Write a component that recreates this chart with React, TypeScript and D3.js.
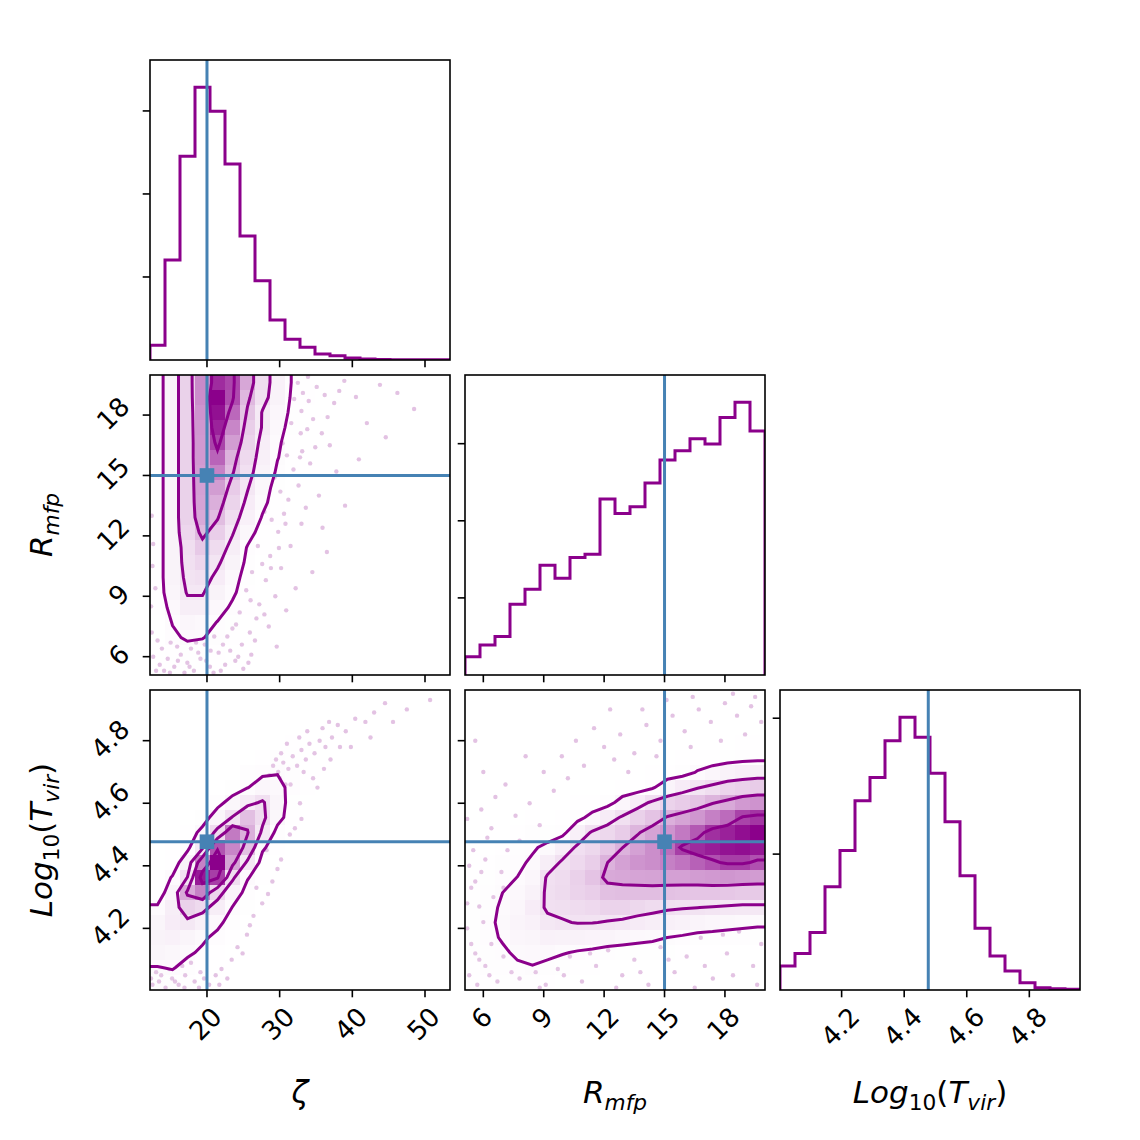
import React from "react";
import * as d3 from "d3";

const PURPLE = "#8b008b";
const TRUTH_COLOR = "#4682b4";
const FONT = "DejaVu Sans";

// axis limits for each parameter (sample extent)
const zetaRange: [number, number] = [12.16, 53.44];
const rmfpRange: [number, number] = [5.09, 19.99];
const logTvirRange: [number, number] = [4.003, 4.962];

const zetaTicks = [20, 30, 40, 50];
const rmfpTicks = [6, 9, 12, 15, 18];
const logTvirTicks = [4.2, 4.4, 4.6, 4.8];

// input values of the mock observation
const truthZeta = 20;
const truthRmfp = 15;
const truthLogTvir = 4.477;

// 1D marginals, 20 bins over each range
const zetaCounts = [177, 1205, 2454, 3285, 2996, 2361, 1494, 956, 482, 249, 153, 72, 52, 24, 12, 6, 4, 3, 2, 2];
const rmfpCounts = [238, 390, 498, 918, 1113, 1424, 1255, 1524, 1567, 2281, 2095, 2182, 2489, 2788, 2909, 3065, 2996, 3338, 3537, 3165];
const logTvirCounts = [177, 268, 423, 759, 1027, 1393, 1563, 1835, 2007, 1860, 1595, 1238, 840, 455, 251, 140, 54, 17, 10, 5];

const zetaCountTicks = [1000, 2000, 3000];
const rmfpCountTicks = [1000, 2000, 3000];
const logTvirCountTicks = [1000, 2000];

// 2D densities (20x20 bins), first row = top of the panel
const zetaRmfpDensity = [
  [0.06, 0.22, 0.42, 0.68, 0.91, 0.85, 0.59, 0.37, 0.23, 0.11, 0.06, 0.035, 0.02, 0.01, 0.005, 0, 0, 0, 0, 0],
  [0.06, 0.22, 0.42, 0.67, 1.0, 0.84, 0.53, 0.35, 0.22, 0.1, 0.05, 0.03, 0.015, 0.01, 0, 0, 0, 0, 0, 0],
  [0.06, 0.22, 0.42, 0.65, 0.97, 0.77, 0.48, 0.29, 0.19, 0.09, 0.045, 0.025, 0.012, 0.005, 0, 0, 0, 0, 0, 0],
  [0.06, 0.22, 0.42, 0.64, 0.93, 0.69, 0.44, 0.29, 0.17, 0.07, 0.035, 0.02, 0.01, 0, 0, 0, 0, 0, 0, 0],
  [0.06, 0.22, 0.42, 0.63, 0.86, 0.62, 0.41, 0.26, 0.14, 0.06, 0.03, 0.015, 0.005, 0, 0, 0, 0, 0, 0, 0],
  [0.06, 0.22, 0.42, 0.63, 0.78, 0.55, 0.38, 0.24, 0.125, 0.06, 0.03, 0.015, 0, 0, 0, 0, 0, 0, 0, 0],
  [0.06, 0.22, 0.42, 0.62, 0.7, 0.51, 0.35, 0.22, 0.1, 0.05, 0.025, 0.012, 0, 0, 0, 0, 0, 0, 0, 0],
  [0.06, 0.22, 0.42, 0.61, 0.62, 0.45, 0.31, 0.18, 0.07, 0.035, 0.018, 0.01, 0, 0, 0, 0, 0, 0, 0, 0],
  [0.06, 0.22, 0.42, 0.6, 0.56, 0.41, 0.27, 0.15, 0.06, 0.03, 0.015, 0, 0, 0, 0, 0, 0, 0, 0, 0],
  [0.06, 0.22, 0.42, 0.58, 0.51, 0.36, 0.23, 0.11, 0.05, 0.025, 0.012, 0, 0, 0, 0, 0, 0, 0, 0, 0],
  [0.06, 0.22, 0.4, 0.53, 0.44, 0.31, 0.18, 0.06, 0.03, 0.015, 0, 0, 0, 0, 0, 0, 0, 0, 0, 0],
  [0.06, 0.22, 0.36, 0.46, 0.37, 0.26, 0.11, 0.05, 0.025, 0.012, 0, 0, 0, 0, 0, 0, 0, 0, 0, 0],
  [0.06, 0.22, 0.35, 0.4, 0.32, 0.22, 0.09, 0.045, 0.02, 0.01, 0, 0, 0, 0, 0, 0, 0, 0, 0, 0],
  [0.06, 0.22, 0.33, 0.35, 0.27, 0.17, 0.07, 0.035, 0.015, 0, 0, 0, 0, 0, 0, 0, 0, 0, 0, 0],
  [0.06, 0.2, 0.31, 0.31, 0.22, 0.14, 0.06, 0.03, 0.012, 0, 0, 0, 0, 0, 0, 0, 0, 0, 0, 0],
  [0.05, 0.16, 0.26, 0.26, 0.17, 0.1, 0.05, 0.025, 0.01, 0, 0, 0, 0, 0, 0, 0, 0, 0, 0, 0],
  [0.04, 0.125, 0.19, 0.17, 0.115, 0.07, 0.035, 0.015, 0, 0, 0, 0, 0, 0, 0, 0, 0, 0, 0, 0],
  [0.03, 0.1, 0.135, 0.125, 0.09, 0.05, 0.025, 0.01, 0, 0, 0, 0, 0, 0, 0, 0, 0, 0, 0, 0],
  [0.02, 0.05, 0.075, 0.07, 0.05, 0.03, 0.015, 0.005, 0, 0, 0, 0, 0, 0, 0, 0, 0, 0, 0, 0],
  [0.01, 0.03, 0.045, 0.04, 0.03, 0.02, 0.01, 0, 0, 0, 0, 0, 0, 0, 0, 0, 0, 0, 0, 0],
];

const zetaLogTvirDensity = [
  [0, 0, 0, 0, 0, 0, 0, 0, 0, 0, 0.01, 0.015, 0.01, 0, 0, 0, 0, 0, 0, 0],
  [0, 0, 0, 0, 0, 0, 0, 0, 0, 0.015, 0.02, 0.02, 0.01, 0, 0, 0, 0, 0, 0, 0],
  [0, 0, 0, 0, 0, 0, 0, 0, 0.02, 0.03, 0.03, 0.02, 0.01, 0, 0, 0, 0, 0, 0, 0],
  [0, 0, 0, 0, 0, 0, 0, 0.03, 0.04, 0.05, 0.04, 0.02, 0, 0, 0, 0, 0, 0, 0, 0],
  [0, 0, 0, 0, 0, 0, 0.03, 0.06, 0.08, 0.07, 0.04, 0.02, 0, 0, 0, 0, 0, 0, 0, 0],
  [0, 0, 0, 0, 0.02, 0.04, 0.08, 0.11, 0.125, 0.08, 0.04, 0.02, 0, 0, 0, 0, 0, 0, 0, 0],
  [0, 0, 0.01, 0.02, 0.04, 0.07, 0.125, 0.185, 0.16, 0.1, 0.05, 0.025, 0.01, 0, 0, 0, 0, 0, 0, 0],
  [0, 0, 0.01, 0.03, 0.09, 0.18, 0.28, 0.35, 0.2, 0.07, 0.035, 0.015, 0, 0, 0, 0, 0, 0, 0, 0],
  [0, 0.01, 0.04, 0.07, 0.2, 0.34, 0.5, 0.37, 0.18, 0.06, 0.03, 0.015, 0, 0, 0, 0, 0, 0, 0, 0],
  [0, 0.02, 0.06, 0.17, 0.38, 0.72, 0.56, 0.3, 0.08, 0.04, 0.02, 0.01, 0, 0, 0, 0, 0, 0, 0, 0],
  [0.02, 0.05, 0.1, 0.3, 0.82, 0.69, 0.49, 0.15, 0.06, 0.03, 0.015, 0, 0, 0, 0, 0, 0, 0, 0, 0],
  [0.02, 0.06, 0.22, 0.7, 1.0, 0.6, 0.3, 0.08, 0.04, 0.02, 0.01, 0, 0, 0, 0, 0, 0, 0, 0, 0],
  [0.05, 0.14, 0.335, 0.95, 0.87, 0.36, 0.14, 0.06, 0.03, 0.015, 0, 0, 0, 0, 0, 0, 0, 0, 0, 0],
  [0.06, 0.21, 0.58, 0.7, 0.4, 0.22, 0.08, 0.04, 0.02, 0.01, 0, 0, 0, 0, 0, 0, 0, 0, 0, 0],
  [0.145, 0.26, 0.42, 0.38, 0.26, 0.125, 0.07, 0.035, 0.015, 0, 0, 0, 0, 0, 0, 0, 0, 0, 0, 0],
  [0.2, 0.27, 0.3, 0.24, 0.16, 0.08, 0.04, 0.02, 0.01, 0, 0, 0, 0, 0, 0, 0, 0, 0, 0, 0],
  [0.22, 0.23, 0.2, 0.15, 0.1, 0.05, 0.025, 0, 0, 0, 0, 0, 0, 0, 0, 0, 0, 0, 0, 0],
  [0.2, 0.18, 0.15, 0.11, 0.06, 0.03, 0, 0, 0, 0, 0, 0, 0, 0, 0, 0, 0, 0, 0, 0],
  [0.125, 0.14, 0.09, 0.05, 0.025, 0, 0, 0, 0, 0, 0, 0, 0, 0, 0, 0, 0, 0, 0, 0],
  [0.08, 0.07, 0.05, 0.03, 0.015, 0, 0, 0, 0, 0, 0, 0, 0, 0, 0, 0, 0, 0, 0, 0],
];

const rmfpLogTvirDensity = [
  [0, 0, 0, 0, 0, 0, 0, 0, 0, 0, 0, 0, 0, 0, 0, 0, 0.005, 0.005, 0.01, 0.01],
  [0, 0, 0, 0, 0, 0, 0, 0, 0, 0, 0, 0, 0, 0, 0.005, 0.005, 0.01, 0.01, 0.015, 0.015],
  [0, 0, 0, 0, 0, 0, 0, 0, 0, 0, 0, 0, 0.005, 0.008, 0.012, 0.015, 0.015, 0.02, 0.03, 0.03],
  [0, 0, 0, 0, 0, 0, 0, 0, 0, 0, 0, 0.007, 0.012, 0.015, 0.025, 0.03, 0.03, 0.04, 0.05, 0.05],
  [0, 0, 0, 0, 0, 0, 0, 0, 0, 0.01, 0.012, 0.015, 0.025, 0.03, 0.05, 0.06, 0.06, 0.07, 0.085, 0.09],
  [0, 0, 0, 0, 0, 0, 0, 0.012, 0.015, 0.02, 0.025, 0.03, 0.05, 0.06, 0.08, 0.135, 0.18, 0.22, 0.24, 0.25],
  [0, 0, 0, 0, 0.015, 0.01, 0.018, 0.025, 0.03, 0.04, 0.05, 0.06, 0.11, 0.205, 0.26, 0.31, 0.35, 0.39, 0.41, 0.43],
  [0, 0, 0, 0.015, 0.03, 0.02, 0.035, 0.05, 0.06, 0.08, 0.176, 0.26, 0.34, 0.4, 0.43, 0.47, 0.52, 0.56, 0.61, 0.63],
  [0.005, 0.01, 0.015, 0.03, 0.05, 0.035, 0.06, 0.09, 0.163, 0.26, 0.335, 0.41, 0.47, 0.54, 0.58, 0.62, 0.68, 0.735, 0.83, 0.86],
  [0.01, 0.02, 0.03, 0.05, 0.08, 0.07, 0.09, 0.23, 0.335, 0.38, 0.43, 0.52, 0.58, 0.63, 0.7, 0.78, 0.87, 0.9, 0.94, 0.965],
  [0.02, 0.035, 0.05, 0.075, 0.11, 0.153, 0.24, 0.34, 0.377, 0.45, 0.53, 0.585, 0.645, 0.73, 0.84, 0.88, 0.91, 0.93, 0.94, 0.925],
  [0.03, 0.05, 0.075, 0.1, 0.145, 0.246, 0.338, 0.375, 0.423, 0.53, 0.586, 0.625, 0.645, 0.68, 0.71, 0.76, 0.8, 0.84, 0.84, 0.8],
  [0.045, 0.07, 0.1, 0.127, 0.183, 0.336, 0.357, 0.41, 0.47, 0.56, 0.568, 0.575, 0.58, 0.59, 0.59, 0.6, 0.61, 0.62, 0.61, 0.6],
  [0.055, 0.085, 0.125, 0.154, 0.22, 0.345, 0.364, 0.4, 0.422, 0.48, 0.49, 0.49, 0.49, 0.475, 0.47, 0.46, 0.46, 0.45, 0.44, 0.44],
  [0.065, 0.095, 0.14, 0.18, 0.26, 0.336, 0.345, 0.36, 0.375, 0.4, 0.4, 0.38, 0.36, 0.337, 0.327, 0.32, 0.31, 0.3, 0.29, 0.29],
  [0.07, 0.1, 0.15, 0.2, 0.225, 0.29, 0.31, 0.324, 0.323, 0.31, 0.295, 0.27, 0.25, 0.233, 0.22, 0.2, 0.18, 0.17, 0.16, 0.15],
  [0.07, 0.1, 0.135, 0.18, 0.19, 0.225, 0.22, 0.22, 0.21, 0.195, 0.18, 0.16, 0.145, 0.125, 0.11, 0.09, 0.09, 0.08, 0.075, 0.07],
  [0.065, 0.09, 0.11, 0.142, 0.155, 0.16, 0.135, 0.114, 0.1, 0.08, 0.07, 0.07, 0.07, 0.065, 0.055, 0.045, 0.045, 0.04, 0.04, 0.035],
  [0.055, 0.075, 0.09, 0.11, 0.12, 0.09, 0.065, 0.06, 0.05, 0.04, 0.035, 0.035, 0.035, 0.03, 0.025, 0.02, 0.02, 0.02, 0.02, 0.02],
  [0.045, 0.055, 0.065, 0.08, 0.08, 0.05, 0.035, 0.03, 0.025, 0.02, 0.017, 0.017, 0.017, 0.015, 0.012, 0.01, 0.01, 0.01, 0.01, 0.01],
];

// contour levels, outermost first (fraction of peak density)
const zetaRmfpLevels = [0.12, 0.3, 0.5, 0.82];
const zetaLogTvirLevels = [0.13, 0.33, 0.55, 0.85];
const rmfpLogTvirLevels = [0.13, 0.33, 0.55, 0.85];

// individual samples that sit outside the outer contour
const zetaRmfpSamples: [number, number][] = [
  [32.5, 19.6], [33.2, 19.1], [34.0, 18.7], [33.0, 18.2], [35.1, 19.4], [36.2, 19.0], [37.5, 18.6], [34.6, 17.8],
  [33.8, 17.3], [35.8, 17.1], [38.9, 19.7], [40.5, 18.9], [43.8, 19.5], [46.2, 19.1], [36.9, 16.5], [33.1, 16.2],
  [34.2, 15.6], [31.9, 15.3], [32.6, 14.5], [35.4, 14.0], [31.2, 13.8], [30.6, 13.1], [33.0, 12.6], [29.8, 12.2],
  [31.5, 11.5], [28.7, 11.0], [30.2, 10.4], [28.1, 9.8], [29.4, 9.0], [27.2, 8.6], [26.8, 7.9], [28.5, 7.5],
  [25.9, 7.2], [24.8, 6.6], [26.1, 6.1], [23.9, 5.8], [25.0, 5.4], [22.5, 5.6], [21.6, 6.2], [20.4, 5.5],
  [19.1, 5.9], [18.2, 5.3], [17.3, 5.7], [16.4, 6.1], [15.5, 5.5], [14.6, 5.9], [13.8, 6.4], [15.0, 6.7],
  [13.0, 5.3], [12.6, 6.0], [16.9, 5.2], [19.7, 6.6], [22.8, 7.0], [30.9, 8.3], [39.0, 13.5], [36.5, 11.2],
  [42.0, 17.6], [48.5, 18.3], [37.8, 15.2], [34.5, 10.2], [32.2, 9.4], [29.6, 6.5], [12.4, 7.2], [12.3, 8.5],
  [12.5, 10.5], [12.4, 13.0], [33.9, 19.9], [31.6, 17.6], [30.4, 16.6], [29.3, 14.9], [27.9, 13.2], [27.0, 11.5],
  [26.2, 10.2], [25.4, 9.3], [24.5, 8.2], [23.5, 7.4], [28.9, 12.8], [30.1, 14.2], [31.0, 16.0], [32.0, 18.8],
  [33.6, 13.4], [35.9, 12.4], [27.6, 10.6], [26.0, 8.8], [24.0, 7.6], [21.0, 7.0], [17.8, 6.4], [14.1, 5.3],
  [20.9, 5.2], [23.2, 6.3], [25.7, 5.7], [13.5, 5.6], [14.9, 5.2], [16.0, 5.8], [17.6, 5.5], [18.8, 6.2],
  [19.9, 5.8], [21.9, 5.3], [22.2, 6.6], [24.3, 6.0], [26.6, 6.8], [27.9, 8.1], [28.8, 10.4], [29.9, 11.4],
  [30.8, 12.6], [32.8, 15.9], [34.9, 16.4], [36.6, 17.9], [38.2, 19.2], [32.9, 17.1], [13.2, 6.8], [15.9, 6.5],
  [18.5, 6.7], [20.5, 6.3], [12.9, 9.4], [12.6, 11.6], [40.9, 15.8], [44.6, 16.9],
];

const zetaLogTvirSamples: [number, number][] = [
  [29.8, 4.7], [30.5, 4.73], [31.2, 4.71], [31.8, 4.75], [32.4, 4.72], [33.0, 4.77], [33.6, 4.74], [34.1, 4.79],
  [34.8, 4.76], [35.5, 4.8], [36.3, 4.78], [30.2, 4.76], [31.0, 4.79], [32.7, 4.81], [29.1, 4.72], [28.6, 4.69],
  [33.8, 4.83], [35.9, 4.84], [37.2, 4.81], [38.0, 4.85], [39.1, 4.83], [40.4, 4.87], [41.8, 4.86], [43.0, 4.89],
  [44.5, 4.92], [47.5, 4.9], [50.7, 4.93], [37.0, 4.74], [36.1, 4.71], [38.3, 4.78], [42.5, 4.81], [34.6, 4.68],
  [31.5, 4.66], [32.8, 4.6], [31.4, 4.5], [30.2, 4.42], [29.0, 4.35], [27.6, 4.28], [26.4, 4.24], [25.5, 4.18],
  [24.2, 4.14], [23.4, 4.1], [22.0, 4.07], [28.2, 4.45], [33.0, 4.55], [26.8, 4.33], [12.5, 4.02], [13.4, 4.03],
  [14.3, 4.01], [15.2, 4.04], [16.1, 4.02], [17.0, 4.05], [13.0, 4.06], [14.8, 4.07], [16.6, 4.08], [18.3, 4.03],
  [19.1, 4.06], [20.3, 4.02], [12.7, 4.09], [17.8, 4.09], [21.2, 4.05], [30.8, 4.66], [29.5, 4.74], [27.8, 4.58],
  [12.3, 4.04], [13.7, 4.05], [15.6, 4.03], [16.9, 4.01], [18.9, 4.01], [19.6, 4.04], [21.7, 4.02], [22.8, 4.04],
  [24.9, 4.12], [25.9, 4.21], [28.4, 4.31], [29.7, 4.39], [32.1, 4.52], [35.2, 4.65], [39.8, 4.78], [45.6, 4.86],
  [36.8, 4.86], [33.3, 4.7], [30.0, 4.68],
];

const rmfpLogTvirSamples: [number, number][] = [
  [5.3, 4.05], [5.6, 4.12], [5.2, 4.2], [5.8, 4.27], [6.1, 4.08], [6.4, 4.15], [5.4, 4.33], [5.9, 4.38],
  [6.7, 4.03], [7.0, 4.11], [5.5, 4.45], [6.2, 4.49], [7.4, 4.06], [5.2, 4.55], [6.8, 4.2], [5.7, 4.02],
  [6.0, 4.22], [6.5, 4.3], [5.3, 4.4], [7.3, 4.16], [7.8, 4.04], [8.4, 4.09], [9.1, 4.02], [9.7, 4.07],
  [10.3, 4.11], [10.9, 4.03], [11.6, 4.08], [12.2, 4.13], [12.9, 4.05], [13.5, 4.1], [14.2, 4.02], [14.8, 4.14],
  [15.5, 4.06], [16.1, 4.11], [16.8, 4.17], [17.4, 4.04], [18.1, 4.12], [18.7, 4.19], [19.4, 4.08], [19.8, 4.15],
  [8.0, 4.13], [9.4, 4.16], [11.0, 4.17], [13.1, 4.18], [15.9, 4.19], [17.9, 4.18], [8.8, 4.01], [12.6, 4.01],
  [16.5, 4.01], [12.0, 4.78], [12.8, 4.82], [13.5, 4.76], [14.1, 4.85], [14.8, 4.8], [15.4, 4.88], [16.0, 4.83],
  [16.7, 4.9], [17.3, 4.86], [18.0, 4.92], [18.6, 4.88], [19.3, 4.91], [19.8, 4.86], [17.8, 4.8], [16.3, 4.78],
  [19.0, 4.82], [13.2, 4.7], [11.0, 4.72], [10.2, 4.68], [9.5, 4.64], [9.0, 4.7], [8.3, 4.6], [7.6, 4.56],
  [7.1, 4.66], [6.6, 4.62], [10.6, 4.8], [8.1, 4.75], [6.0, 4.7], [5.6, 4.8], [12.3, 4.9], [15.1, 4.93],
  [18.4, 4.95], [7.8, 4.48], [8.8, 4.53], [5.4, 4.15], [5.8, 4.1], [6.3, 4.05], [5.2, 4.28], [5.6, 4.35],
  [6.1, 4.42], [6.9, 4.38], [7.0, 4.33], [8.6, 4.06], [10.0, 4.05], [11.3, 4.12], [13.8, 4.06], [15.2, 4.1],
  [17.0, 4.08], [18.4, 4.05], [19.6, 4.02], [5.9, 4.58], [6.4, 4.52], [7.2, 4.45], [9.9, 4.75], [11.5, 4.84],
  [13.9, 4.9], [16.4, 4.94], [19.5, 4.94], [14.6, 4.75], [12.5, 4.74],
];

const PANEL = 300;
const colLeft = [150, 465, 780];
const rowTop = [60, 375, 690];
const TICK_LEN = 7.3;
const TICK_PAD = 7.3;
const TICK_FONT = 26;
const LABEL_FONT = 31;
const SUB_FONT = 21.7;
const SUB_SHIFT = 7;
const LINE_W = 3;

type Scale = d3.ScaleLinear<number, number>;

const fmt = (v: number) => String(v);
// DejaVu Sans advance widths: digits 0.636em, period 0.318em
const labelWidth = (s: string) =>
  s.split("").reduce((w, ch) => w + (ch === "." ? 0.318 : 0.636), 0) * TICK_FONT;
// extent of a 45 degree label box
const rotatedExtent = (s: string) => (labelWidth(s) + 0.99 * TICK_FONT) / Math.SQRT2;

function XTicks({ scale, ticks, labelled }: { scale: Scale; ticks: number[]; labelled: boolean }) {
  return (
    <g>
      {ticks.map((t) => {
        const x = scale(t);
        const s = fmt(t);
        const cy = PANEL + TICK_LEN + TICK_PAD + rotatedExtent(s) / 2;
        return (
          <g key={t}>
            <line x1={x} x2={x} y1={PANEL} y2={PANEL + TICK_LEN} stroke="#000" strokeWidth={1.6} />
            {labelled && (
              <text transform={`translate(${x},${cy}) rotate(-45)`} textAnchor="middle" dy="0.265em" fontSize={TICK_FONT}>
                {s}
              </text>
            )}
          </g>
        );
      })}
    </g>
  );
}

function YTicks({ scale, ticks, labelled }: { scale: Scale; ticks: number[]; labelled: boolean }) {
  return (
    <g>
      {ticks.map((t) => {
        const y = scale(t);
        const s = fmt(t);
        const cx = -(TICK_LEN + TICK_PAD + rotatedExtent(s) / 2);
        return (
          <g key={t}>
            <line x1={-TICK_LEN} x2={0} y1={y} y2={y} stroke="#000" strokeWidth={1.6} />
            {labelled && (
              <text transform={`translate(${cx},${y}) rotate(-45)`} textAnchor="middle" dy="0.265em" fontSize={TICK_FONT}>
                {s}
              </text>
            )}
          </g>
        );
      })}
    </g>
  );
}

function Frame() {
  return <rect width={PANEL} height={PANEL} fill="none" stroke="#000" strokeWidth={1.6} />;
}

interface HistProps {
  id: string;
  left: number;
  top: number;
  range: [number, number];
  counts: number[];
  countTicks: number[];
  ticks: number[];
  labelled: boolean;
  truth: number;
}

function HistPanel({ id, left, top, range, counts, countTicks, ticks, labelled, truth }: HistProps) {
  const x = d3.scaleLinear().domain(range).range([0, PANEL]);
  const y = d3.scaleLinear().domain([0, 1.1 * (d3.max(counts) ?? 1)]).range([PANEL, 0]);
  const n = counts.length;
  const edges = d3.range(n + 1).map((i) => range[0] + ((range[1] - range[0]) * i) / n);
  const steps: [number, number][] = [[edges[0], 0]];
  counts.forEach((c, i) => steps.push([edges[i], c], [edges[i + 1], c]));
  steps.push([edges[n], 0]);
  const line = d3.line<[number, number]>().x((d) => x(d[0])).y((d) => y(d[1]));

  return (
    <g transform={`translate(${left},${top})`}>
      <clipPath id={id}>
        <rect width={PANEL} height={PANEL} />
      </clipPath>
      <g clipPath={`url(#${id})`}>
        <path d={line(steps) ?? ""} fill="none" stroke={PURPLE} strokeWidth={LINE_W} strokeLinejoin="miter" />
        <line x1={x(truth)} x2={x(truth)} y1={0} y2={PANEL} stroke={TRUTH_COLOR} strokeWidth={LINE_W} />
      </g>
      <Frame />
      <XTicks scale={x} ticks={ticks} labelled={labelled} />
      <YTicks scale={y} ticks={countTicks} labelled={false} />
    </g>
  );
}

interface DensityProps {
  id: string;
  left: number;
  top: number;
  xRange: [number, number];
  yRange: [number, number];
  density: number[][];
  levels: number[];
  samples: [number, number][];
  truth: [number, number];
  xTicks: number[];
  yTicks: number[];
  xLabelled: boolean;
  yLabelled: boolean;
}

function DensityPanel(p: DensityProps) {
  const x = d3.scaleLinear().domain(p.xRange).range([0, PANEL]);
  const y = d3.scaleLinear().domain(p.yRange).range([PANEL, 0]);
  const ny = p.density.length;
  const nx = p.density[0].length;
  const bw = (p.xRange[1] - p.xRange[0]) / nx;
  const bh = (p.yRange[1] - p.yRange[0]) / ny;
  const peak = d3.max(p.density.flat()) ?? 1;
  const shade = d3.interpolateRgb("#ffffff", PURPLE);

  // extend the grid by one bin on every side so contours run off the axes
  const clampI = (i: number, n: number) => Math.max(0, Math.min(n - 1, i));
  const padded: number[] = [];
  for (let j = -1; j <= ny; j++) {
    for (let i = -1; i <= nx; i++) padded.push(p.density[clampI(j, ny)][clampI(i, nx)] / peak);
  }
  const contours = d3.contours().size([nx + 2, ny + 2]).thresholds(p.levels)(padded);
  const grid = d3.geoTransform({
    point: function (gx: number, gy: number) {
      this.stream.point(x(p.xRange[0] + (gx - 1) * bw), y(p.yRange[1] - (gy - 1) * bh));
    },
  });
  const path = d3.geoPath(grid);

  const tx = x(p.truth[0]);
  const ty = y(p.truth[1]);

  return (
    <g transform={`translate(${p.left},${p.top})`}>
      <clipPath id={p.id}>
        <rect width={PANEL} height={PANEL} />
      </clipPath>
      <g clipPath={`url(#${p.id})`}>
        {p.samples.map(([sx, sy], k) => (
          <circle key={k} cx={x(sx)} cy={y(sy)} r={2.2} fill={PURPLE} fillOpacity={0.24} />
        ))}
        <path d={path(contours[0] as any) ?? ""} fill="#ffffff" stroke="none" />
        <g shapeRendering="crispEdges">
          {p.density.map((row, j) =>
            row.map((v, i) => {
              const t = v / peak;
              if (t < 0.004) return null;
              const x0 = x(p.xRange[0] + i * bw);
              const x1 = x(p.xRange[0] + (i + 1) * bw);
              const y0 = y(p.yRange[1] - j * bh);
              const y1 = y(p.yRange[1] - (j + 1) * bh);
              return (
                <rect key={`${j}-${i}`} x={x0} y={y0} width={x1 - x0} height={y1 - y0} fill={shade(t)} fillOpacity={t} />
              );
            })
          )}
        </g>
        {contours.map((c, k) => (
          <path key={k} d={path(c as any) ?? ""} fill="none" stroke={PURPLE} strokeWidth={LINE_W} />
        ))}
        <line x1={tx} x2={tx} y1={0} y2={PANEL} stroke={TRUTH_COLOR} strokeWidth={LINE_W} />
        <line x1={0} x2={PANEL} y1={ty} y2={ty} stroke={TRUTH_COLOR} strokeWidth={LINE_W} />
        <rect x={tx - 7.3} y={ty - 7.3} width={14.6} height={14.6} fill={TRUTH_COLOR} />
      </g>
      <Frame />
      <XTicks scale={x} ticks={p.xTicks} labelled={p.xLabelled} />
      <YTicks scale={y} ticks={p.yTicks} labelled={p.yLabelled} />
    </g>
  );
}

function RmfpLabel() {
  return (
    <>
      <tspan fontStyle="italic">R</tspan>
      <tspan fontStyle="italic" fontSize={SUB_FONT} dy={SUB_SHIFT}>mfp</tspan>
    </>
  );
}

function LogTvirLabel() {
  return (
    <>
      <tspan fontStyle="italic">Log</tspan>
      <tspan fontSize={SUB_FONT} dy={SUB_SHIFT}>10</tspan>
      <tspan dy={-SUB_SHIFT}>(</tspan>
      <tspan fontStyle="italic">T</tspan>
      <tspan fontStyle="italic" fontSize={SUB_FONT} dy={SUB_SHIFT}>vir</tspan>
      <tspan dy={-SUB_SHIFT}>)</tspan>
    </>
  );
}

export default function App() {
  const labelY = 1103;
  const labelX = 52;
  return (
    <svg
      width={1140}
      height={1140}
      style={{ position: "absolute", left: 0, top: 0, background: "#fff" }}
      fontFamily={FONT}
    >
      <rect width={1140} height={1140} fill="#fff" />

      <HistPanel id="h-zeta" left={colLeft[0]} top={rowTop[0]} range={zetaRange} counts={zetaCounts}
        countTicks={zetaCountTicks} ticks={zetaTicks} labelled={false} truth={truthZeta} />

      <DensityPanel id="d-zeta-rmfp" left={colLeft[0]} top={rowTop[1]} xRange={zetaRange} yRange={rmfpRange}
        density={zetaRmfpDensity} levels={zetaRmfpLevels} samples={zetaRmfpSamples} truth={[truthZeta, truthRmfp]}
        xTicks={zetaTicks} yTicks={rmfpTicks} xLabelled={false} yLabelled={true} />

      <HistPanel id="h-rmfp" left={colLeft[1]} top={rowTop[1]} range={rmfpRange} counts={rmfpCounts}
        countTicks={rmfpCountTicks} ticks={rmfpTicks} labelled={false} truth={truthRmfp} />

      <DensityPanel id="d-zeta-logt" left={colLeft[0]} top={rowTop[2]} xRange={zetaRange} yRange={logTvirRange}
        density={zetaLogTvirDensity} levels={zetaLogTvirLevels} samples={zetaLogTvirSamples}
        truth={[truthZeta, truthLogTvir]} xTicks={zetaTicks} yTicks={logTvirTicks} xLabelled={true} yLabelled={true} />

      <DensityPanel id="d-rmfp-logt" left={colLeft[1]} top={rowTop[2]} xRange={rmfpRange} yRange={logTvirRange}
        density={rmfpLogTvirDensity} levels={rmfpLogTvirLevels} samples={rmfpLogTvirSamples}
        truth={[truthRmfp, truthLogTvir]} xTicks={rmfpTicks} yTicks={logTvirTicks} xLabelled={true} yLabelled={false} />

      <HistPanel id="h-logt" left={colLeft[2]} top={rowTop[2]} range={logTvirRange} counts={logTvirCounts}
        countTicks={logTvirCountTicks} ticks={logTvirTicks} labelled={true} truth={truthLogTvir} />

      {/* axis labels */}
      <text x={colLeft[0] + PANEL / 2} y={labelY} textAnchor="middle" fontSize={LABEL_FONT} fontStyle="italic">ζ</text>
      <text x={colLeft[1] + PANEL / 2} y={labelY} textAnchor="middle" fontSize={LABEL_FONT}>
        <RmfpLabel />
      </text>
      <text x={colLeft[2] + PANEL / 2} y={labelY} textAnchor="middle" fontSize={LABEL_FONT}>
        <LogTvirLabel />
      </text>
      <text transform={`translate(${labelX},${rowTop[1] + PANEL / 2}) rotate(-90)`} textAnchor="middle" fontSize={LABEL_FONT}>
        <RmfpLabel />
      </text>
      <text transform={`translate(${labelX},${rowTop[2] + PANEL / 2}) rotate(-90)`} textAnchor="middle" fontSize={LABEL_FONT}>
        <LogTvirLabel />
      </text>
    </svg>
  );
}
